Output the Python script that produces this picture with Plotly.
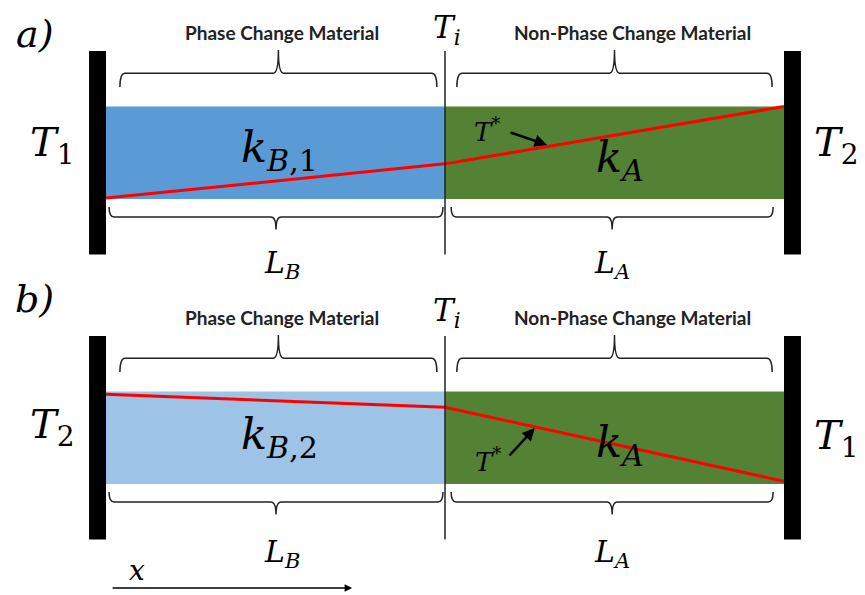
import plotly.graph_objects as go

# ---- data ----
materials = ["Phase Change Material", "Non-Phase Change Material"]
lengths = [1.0, 1.0]                      # L_B, L_A
panels = ["a)", "b)"]
panel_offsets = [3.081, 0.0]
slab_colors = [["#5B9BD5", "#548235"], ["#9DC3E6", "#548235"]]
k_labels = [["<i>k</i><sub><i>B</i>,1</sub>", "<i>k</i><sub><i>A</i></sub>"],
            ["<i>k</i><sub><i>B</i>,2</sub>", "<i>k</i><sub><i>A</i></sub>"]]
wall_labels = [["<i>T</i><sub>1</sub>", "<i>T</i><sub>2</sub>"],
               ["<i>T</i><sub>2</sub>", "<i>T</i><sub>1</sub>"]]
temp_a = [0.01, 0.38, 1.0]   # normalised temperature at wall, interface, wall
temp_b = [0.97, 0.83, 0.03]
temps = [temp_a, temp_b]

x_edges = [0.0, lengths[0], lengths[0] + lengths[1]]

SERIF = "DejaVu Serif"
fig = go.Figure()
shapes = []
ann = []

def brace(x0, x1, yh, yend, ytip, dx=0.015):
    xm = (x0 + x1) / 2
    return (f"M {x0},{yend} Q {x0},{yh} {x0+dx},{yh} L {xm-dx},{yh} "
            f"Q {xm},{yh} {xm},{ytip} Q {xm},{yh} {xm+dx},{yh} "
            f"L {x1-dx},{yh} Q {x1},{yh} {x1},{yend}")

for p, off in enumerate(panel_offsets):
    for i in range(2):
        shapes.append(dict(type="rect", xref="x", yref="y", x0=x_edges[i], x1=x_edges[i+1],
                           y0=off, y1=off + 1, fillcolor=slab_colors[p][i], line_width=0,
                           layer="below"))
    shapes.append(dict(type="rect", x0=x_edges[0] - 0.05, x1=x_edges[0], y0=off - 0.6, y1=off + 1.6,
                       fillcolor="black", line_width=0))
    shapes.append(dict(type="rect", x0=x_edges[2], x1=x_edges[2] + 0.05, y0=off - 0.6, y1=off + 1.6,
                       fillcolor="black", line_width=0))
    shapes.append(dict(type="line", x0=x_edges[1], x1=x_edges[1], y0=off - 0.6, y1=off + 1.6,
                       line=dict(color="#222222", width=1.5)))
    top = [(0.041, 0.976), (1.035, 1.965)]
    bot = [(0.009, 0.994), (1.018, 1.968)]
    for i in range(2):
        shapes.append(dict(type="path", path=brace(top[i][0], top[i][1], off + 1.36, off + 1.21, off + 1.61),
                           line=dict(color="#222222", width=1.5)))
        shapes.append(dict(type="path", path=brace(bot[i][0], bot[i][1], off - 0.195, off - 0.087, off - 0.33),
                           line=dict(color="#222222", width=1.5)))
    fig.add_trace(go.Scatter(x=x_edges, y=[off + t for t in temps[p]], mode="lines",
                             line=dict(color="#FF0000", width=3), hoverinfo="skip", showlegend=False))
    ann.append(dict(x=-0.21, y=off + (1.78 if p == 0 else 2.0), text=f"<i>{panels[p]}</i>",
                    font=dict(family=SERIF, size=38, color="black")))
    ann.append(dict(x=1.006, y=off + (1.83 if p == 0 else 1.849), text="<i>T</i><sub><i>i</i></sub>",
                    font=dict(family=SERIF, size=31, color="black")))
    ann.append(dict(x=0.519, y=off + 1.80, text=f"<b>{materials[0]}</b>",
                    font=dict(family="Lato", size=19, color="#222222")))
    ann.append(dict(x=1.552, y=off + 1.80, text=f"<b>{materials[1]}</b>",
                    font=dict(family="Lato", size=19, color="#222222")))
    ann.append(dict(x=-0.159, y=off + (0.584 if p == 0 else 0.616), text=wall_labels[p][0],
                    font=dict(family=SERIF, size=40, color="black")))
    ann.append(dict(x=2.156, y=off + (0.584 if p == 0 else 0.497), text=wall_labels[p][1],
                    font=dict(family=SERIF, size=40, color="black")))
    ann.append(dict(x=0.513, y=off + (0.53 if p == 0 else 0.508), text=k_labels[p][0],
                    font=dict(family=SERIF, size=43, color="black")))
    ann.append(dict(x=1.516, y=off + (0.42 if p == 0 else 0.42), text=k_labels[p][1],
                    font=dict(family=SERIF, size=43, color="black")))
    ann.append(dict(x=0.519, y=off + (-0.713 if p == 0 else -0.746), text="<i>L</i><sub><i>B</i></sub>",
                    font=dict(family=SERIF, size=30, color="black")))
    ann.append(dict(x=1.493, y=off + (-0.713 if p == 0 else -0.746), text="<i>L</i><sub><i>A</i></sub>",
                    font=dict(family=SERIF, size=30, color="black")))
    if p == 0:
        tx, ty, ax0, ay0, ax1, ay1 = 1.124, off + 0.746, 1.189, off + 0.724, 1.301, off + 0.584
    else:
        tx, ty, ax0, ay0, ax1, ay1 = 1.127, off + 0.259, 1.186, off + 0.292, 1.265, off + 0.605
    ann.append(dict(x=tx, y=ty, text="<i>T</i><sup>*</sup>", font=dict(family=SERIF, size=26, color="black")))
    ann.append(dict(x=ax1, y=ay1, ax=ax0, ay=ay0, axref="x", ayref="y", text="", showarrow=True,
                    arrowhead=2, arrowsize=1, arrowwidth=2.5, arrowcolor="black"))

ann.append(dict(x=0.091, y=-0.93, text="<i>x</i>", font=dict(family=SERIF, size=28, color="black")))
ann.append(dict(x=0.726, y=-1.124, ax=0.015, ay=-1.124, axref="x", ayref="y", text="", showarrow=True,
                arrowhead=2, arrowsize=1, arrowwidth=1.5, arrowcolor="black"))

for a in ann:
    a.setdefault("showarrow", False)
    a.setdefault("xref", "x")
    a.setdefault("yref", "y")

# page body adds an 8px margin, so the figure is 8px smaller and its ranges start 8px in
fig.update_layout(
    width=857, height=587, margin=dict(l=0, r=0, t=0, b=0),
    paper_bgcolor="white", plot_bgcolor="white",
    xaxis=dict(range=[-0.2891, 2.2389], visible=False, fixedrange=True),
    yaxis=dict(range=[-1.2, 5.146], visible=False, fixedrange=True),
    shapes=shapes, annotations=ann, showlegend=False,
)
fig.write_html("out.html")
